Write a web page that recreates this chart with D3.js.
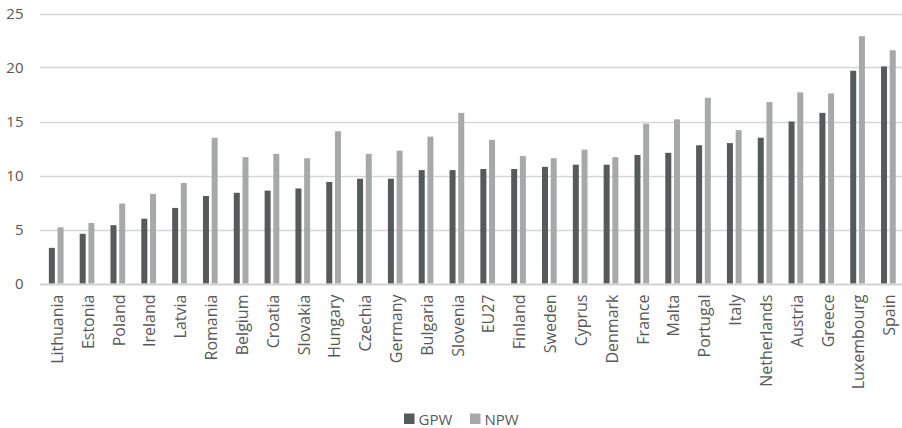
<!DOCTYPE html>
<html>
<head>
<meta charset="utf-8">
<script src="https://cdn.jsdelivr.net/npm/d3@7"></script>
<style>
  html, body { margin: 0; padding: 0; background: #fff; }
  svg { display: block; font-family: "Open Sans", sans-serif; }
</style>
</head>
<body>
<svg id="chart" width="902" height="428"></svg>
<script>
// Countries ordered by GPW
const categories = ["Lithuania","Estonia","Poland","Ireland","Latvia","Romania","Belgium","Croatia","Slovakia","Hungary","Czechia","Germany","Bulgaria","Slovenia","EU27","Finland","Sweden","Cyprus","Denmark","France","Malta","Portugal","Italy","Netherlands","Austria","Greece","Luxembourg","Spain"];
const gpw = [3.3,4.6,5.4,6.0,7.0,8.1,8.4,8.6,8.8,9.4,9.7,9.7,10.5,10.5,10.6,10.6,10.8,11.0,11.0,11.9,12.1,12.8,13.0,13.5,15.0,15.8,19.7,20.1];
const npw = [5.2,5.6,7.4,8.3,9.3,13.5,11.7,12.0,11.6,14.1,12.0,12.3,13.6,15.8,13.3,11.8,11.6,12.4,11.7,14.8,15.2,17.2,14.2,16.8,17.7,17.6,22.9,21.6];
const seriesNames = ["GPW","NPW"];
const seriesColors = ["#575a5b","#a7a9a9"];
const yTicks = [0,5,10,15,20,25];

const svg = d3.select("#chart");
const textColor = "#595959";

const y = d3.scaleLinear().domain([0, 25]).range([283.5, 13.5]);
const x0 = d3.scaleBand().domain(categories).range([40.8, 903.8]).paddingInner(0).paddingOuter(0);
const bw = x0.bandwidth();
const x1 = d3.scaleBand().domain(seriesNames).range([bw / 2 - 7.35, bw / 2 + 7.35]).paddingInner(0.31);

// Horizontal gridlines
svg.append("g")
  .selectAll("line")
  .data(yTicks)
  .join("line")
  .attr("x1", 40).attr("x2", 902)
  .attr("y1", d => Math.round(y(d)) + 0.5)
  .attr("y2", d => Math.round(y(d)) + 0.5)
  .attr("stroke", "#d6d6d6")
  .attr("stroke-width", 1.3);

// Y axis labels
const yAxis = d3.axisLeft(y).tickValues(yTicks).tickSize(0).tickPadding(0);
const yg = svg.append("g").attr("transform", "translate(23.5,0)").call(yAxis);
yg.select(".domain").remove();
yg.selectAll("text")
  .attr("fill", textColor)
  .style("font-size", "15px")
  .style("font-family", "'Open Sans', sans-serif");

// Bars
const rows = categories.map((c, i) => ({ c, vals: [gpw[i], npw[i]] }));
const groups = svg.append("g")
  .selectAll("g")
  .data(rows)
  .join("g")
  .attr("transform", d => `translate(${x0(d.c)},0)`);

groups.selectAll("rect")
  .data(d => d.vals.map((v, k) => ({ key: seriesNames[k], v, k })))
  .join("rect")
  .attr("x", d => x1(d.key))
  .attr("width", x1.bandwidth())
  .attr("y", d => y(d.v))
  .attr("height", d => y(0) - y(d.v))
  .attr("fill", d => seriesColors[d.k]);

// Baseline
svg.append("line")
  .attr("x1", 40).attr("x2", 902)
  .attr("y1", Math.round(y(0)) + 0.5).attr("y2", Math.round(y(0)) + 0.5)
  .attr("stroke", "#cfcfcf").attr("stroke-width", 1.3);

// Rotated category labels
const xAxis = d3.axisBottom(x0).tickSize(0).tickPadding(0);
const xg = svg.append("g").attr("transform", `translate(0,${y(0)})`).call(xAxis);
xg.select(".domain").remove();
xg.selectAll("text")
  .attr("transform", "rotate(-90)")
  .attr("x", -11)
  .attr("y", 1)
  .attr("dy", "0.36em")
  .attr("dx", 0)
  .style("text-anchor", "end")
  .attr("fill", textColor)
  .style("font-size", "16px")
  .style("font-family", "'Open Sans', sans-serif");

// Legend
const legend = svg.append("g").attr("transform", "translate(404,413.5)");
const legendOffsets = [0, 66];
seriesNames.forEach((name, i) => {
  const g = legend.append("g").attr("transform", `translate(${legendOffsets[i]},0)`);
  g.append("rect").attr("width", 10.5).attr("height", 10.5).attr("fill", seriesColors[i]);
  g.append("text")
    .attr("x", 14.5).attr("y", 11)
    .attr("fill", textColor)
    .style("font-size", "15px")
    .text(name);
});
</script>
</body>
</html>
